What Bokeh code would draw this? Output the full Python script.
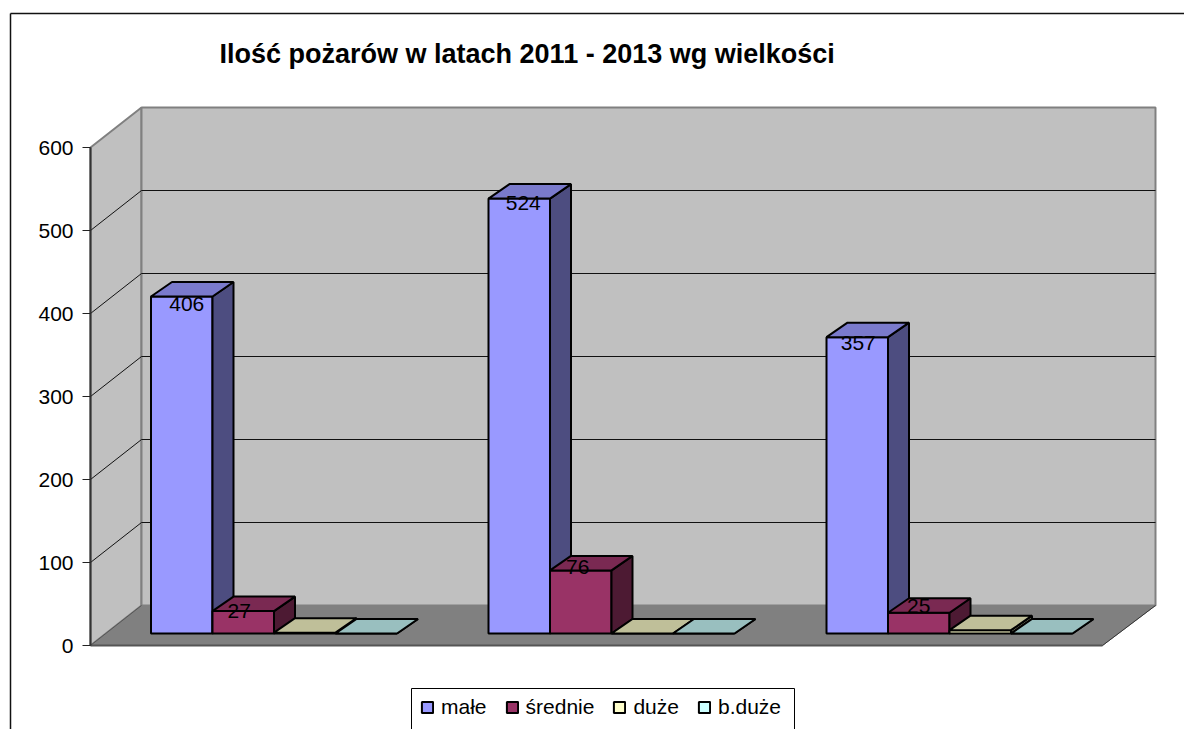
from bokeh.plotting import figure
from bokeh.models import Range1d, Legend, LegendItem, FixedTicker, ColumnDataSource
from bokeh.core.properties import value
from bokeh.embed import file_html
from bokeh.resources import INLINE

# ---- data ----
title_text = "Ilość  pożarów w latach 2011 - 2013 wg wielkości"
series_names = ["małe", "średnie", "duże", "b.duże"]
male = [406, 524, 357]
srednie = [27, 76, 25]
duze = [1, 0, 4]
b_duze = [0, 0, 0]
tick_values = [0, 100, 200, 300, 400, 500, 600]

all_series = [male, srednie, duze, b_duze]

# ---- styles ----
front_cols = ["#9999FF", "#993366", "#FFFFCC", "#CCFFFF"]
top_cols = ["#7A7ACC", "#7A2952", "#BFBF99", "#99BFBF"]
side_cols = ["#4D4D80", "#4D1A33", "#808066", "#668080"]
FONT = "Liberation Sans"

# ---- layout (screen-like x, y scale in value units) ----
W, H = 1184, 729
PX_PER_UNIT = 0.83
ZERO_Y = 645                 # page y of value 0 on the front edge


def dy(px):
    return px / PX_PER_UNIT


x_left, x_right = 90, 1102
wall_dx, wall_dy = 51, dy(40)
y_top = tick_values[-1]
group_x = [150.5, 488, 826]
slot = 61.5
bar_dx, bar_dy = 21, dy(14.5)
bar_base = dy(12)            # front plane of the bars above front floor edge

p = figure(width=W, height=H, output_backend="svg", toolbar_location=None,
           x_range=Range1d(0, W),
           y_range=Range1d(dy(ZERO_Y - H), dy(ZERO_Y)),
           min_border=0, min_border_left=0, min_border_right=0,
           min_border_top=0, min_border_bottom=0, outline_line_color=None,
           x_axis_location=None, y_axis_location="left")
p.xgrid.visible = False
p.ygrid.visible = False

# axis sits inside the frame, at the front-left corner of the box
ax = p.yaxis[0]
ax.fixed_location = x_left
ax.bounds = (0, y_top)
ax.ticker = FixedTicker(ticks=tick_values)
ax.axis_line_color = "#333333"
ax.axis_line_width = 2
ax.major_tick_line_color = "#222222"
ax.major_tick_out = 8
ax.major_tick_in = 0
ax.minor_tick_line_color = None
ax.major_label_text_font = FONT
ax.major_label_text_font_size = "21px"
ax.major_label_text_color = "#000000"
ax.major_label_standoff = 9

# outer chart border
border_y = dy(ZERO_Y - 13)
p.line([10, 10], [dy(ZERO_Y - H), border_y], line_color="#111111", line_width=1.5)
p.line([10, W], [border_y, border_y], line_color="#111111", line_width=1.5)

# walls and floor
back_left = x_left + wall_dx
back_right = 1155
p.patch([x_left, back_left, back_left, x_left],
        [y_top, y_top + wall_dy, wall_dy, 0],
        fill_color="#C0C0C0", line_color="#808080", line_width=2)
p.patch([back_left, back_right, back_right, back_left],
        [wall_dy, wall_dy, y_top + wall_dy, y_top + wall_dy],
        fill_color="#C0C0C0", line_color="#808080", line_width=2)
p.patch([x_left, back_left, back_right, x_right],
        [0, wall_dy, wall_dy, 0],
        fill_color="#808080", line_color="#808080", line_width=1)
p.line([x_left, x_right], [0, 0], line_color="#555555", line_width=2)
p.line([x_left, back_left], [0, wall_dy], line_color="#555555", line_width=1)
p.line([x_right, back_right], [0, wall_dy], line_color="#333333", line_width=1)

# gridlines
for v in tick_values[1:-1]:
    p.line([x_left, back_left, back_right], [v, v + wall_dy, v + wall_dy],
           line_color="#111111", line_width=1)

# bars
legend_items = []
for s, vals in enumerate(all_series):
    lefts = [g + s * slot for g in group_x]
    rights = [l + slot for l in lefts]
    tops = [bar_base + v for v in vals]
    src = ColumnDataSource(dict(left=lefts, right=rights, top=tops,
                                bottom=[bar_base] * len(vals)))
    front = p.quad(left="left", right="right", top="top", bottom="bottom", source=src,
                   fill_color=front_cols[s], line_color="#000000", line_width=2)
    p.patches([[r, r + bar_dx, r + bar_dx, r] for r in rights],
              [[bar_base, bar_base + bar_dy, t + bar_dy, t] for t in tops],
              fill_color=side_cols[s], line_color="#000000", line_width=2)
    p.patches([[l, l + bar_dx, r + bar_dx, r] for l, r in zip(lefts, rights)],
              [[t, t + bar_dy, t + bar_dy, t] for t in tops],
              fill_color=top_cols[s], line_color="#000000", line_width=2)
    legend_items.append(LegendItem(label=series_names[s], renderers=[front]))

# data labels: (series, group, nudge x px, nudge y px below the bar top)
label_spec = [(0, 0, 5, 7), (0, 1, 4, 4), (0, 2, 1, 6),
              (1, 0, -4, 0), (1, 1, -3, -3), (1, 2, 0, -7)]
lx, ly, lt = [], [], []
for s, g, nx, ny in label_spec:
    v = all_series[s][g]
    lx.append(group_x[g] + s * slot + slot / 2 + nx)
    ly.append(bar_base + v - dy(ny))
    lt.append(str(v))
p.text(lx, ly, text=lt, text_font=value(FONT), text_font_size="21px",
       text_align="center", text_baseline="middle", text_color="#000000")

# title
p.text([219], [dy(ZERO_Y - 53)], text=[title_text], text_font=value(FONT),
       text_font_size="27px", text_font_style="bold", text_align="left",
       text_baseline="middle", text_color="#000000")

# legend frame, open at the bottom edge of the picture
legend_top = dy(ZERO_Y - 688)
legend_bottom = dy(ZERO_Y - H - 5)
p.quad(left=[411], right=[794], top=[legend_top], bottom=[legend_bottom],
       fill_color="#FFFFFF", line_color="#000000", line_width=1)

leg = Legend(items=legend_items, orientation="horizontal", location=(420, 10),
             margin=0, padding=6, spacing=18, label_standoff=7,
             glyph_width=14, glyph_height=14,
             label_text_font=FONT, label_text_font_size="21px",
             label_text_color="#000000", border_line_color=None,
             background_fill_alpha=0)
p.add_layout(leg)

open("out.html", "w").write(file_html(p, INLINE))
